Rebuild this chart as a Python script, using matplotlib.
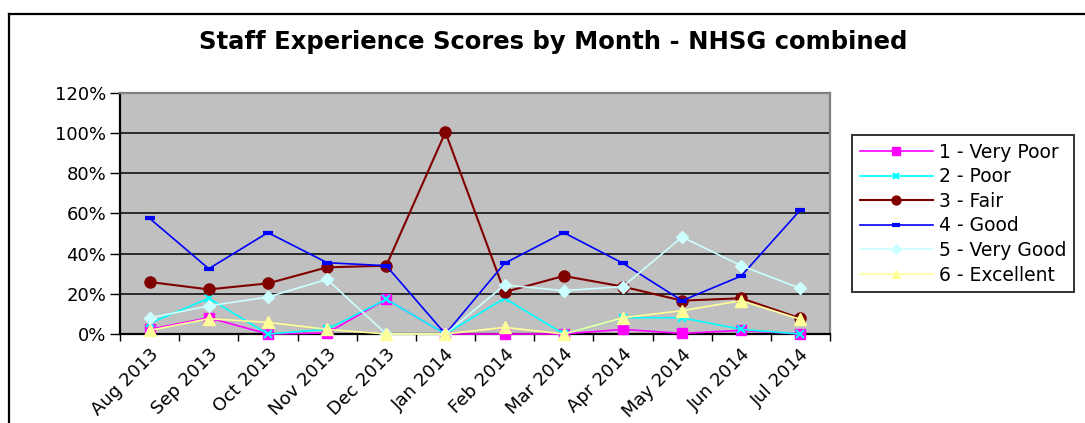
import matplotlib
matplotlib.use("Agg")
import matplotlib.pyplot as plt
from matplotlib.lines import Line2D
from matplotlib.ticker import PercentFormatter, FixedLocator

months = ["Aug 2013", "Sep 2013", "Oct 2013", "Nov 2013", "Dec 2013", "Jan 2014",
          "Feb 2014", "Mar 2014", "Apr 2014", "May 2014", "Jun 2014", "Jul 2014"]

very_poor = [2.3, 8.1, 0, 0.5, 17.3, 0, 0, 0, 2.3, 0.3, 1.8, 0]
poor = [5.3, 17.8, 0, 2.3, 17.3, 0, 17.8, 0, 8.1, 8.1, 2.3, 0]
fair = [25.9, 22.2, 25.2, 33.2, 34.0, 100.5, 20.9, 28.9, 23.6, 16.6, 17.8, 7.8]
good = [57.6, 32.5, 50.5, 35.5, 34.0, 0, 35.2, 50.5, 35.2, 16.6, 28.9, 61.8]
very_good = [8.0, 14.0, 18.4, 27.2, 0, 0, 24.4, 21.6, 23.6, 48.3, 34.0, 22.7]
excellent = [1.8, 7.6, 5.8, 2.3, 0, 0, 3.3, 0, 8.1, 11.6, 16.6, 7.3]

series = [
    ("1 - Very Poor", very_poor, "#FF00FF", "s", 7, 1.2),
    ("2 - Poor", poor, "#00FFFF", "x", 6, 1.2),
    ("3 - Fair", fair, "#800000", "o", 8, 1.5),
    ("4 - Good", good, "#0000FF", "_", 7, 1.2),
    ("5 - Very Good", very_good, "#CCFFFF", "D", 6.5, 1.2),
    ("6 - Excellent", excellent, "#FFFF99", "^", 8, 1.2),
]

plt.rcParams["font.family"] = "DejaVu Sans"

fig = plt.figure(figsize=(10.85, 4.23), dpi=100)
fig.patch.set_facecolor("white")

# chart border (only left and top visible)
fig.add_artist(Line2D([9 / 1085, 9 / 1085], [0, 1 - 14 / 423], transform=fig.transFigure, color="black", lw=1.6))
fig.add_artist(Line2D([9 / 1085, 1], [1 - 14 / 423, 1 - 14 / 423], transform=fig.transFigure, color="black", lw=1.6))

ax = fig.add_axes([120 / 1085, 89 / 423, 710 / 1085, 241 / 423])
ax.set_facecolor("#C0C0C0")

x = list(range(len(months)))
for name, vals, color, marker, ms, lw in series:
    mew = 3 if marker == "_" else (1.5 if marker == "x" else 1)
    ax.plot(x, [v / 100 for v in vals], color=color, lw=lw, marker=marker, ms=ms,
            mec=color, mfc=color, mew=mew, label=name, clip_on=False, zorder=3)

ax.set_xlim(-0.5, len(months) - 0.5)
ax.set_ylim(0, 1.2)
ax.set_yticks([0, 0.2, 0.4, 0.6, 0.8, 1.0, 1.2])
ax.yaxis.set_major_formatter(PercentFormatter(1.0, decimals=0))
ax.grid(axis="y", color="black", lw=1.1, zorder=1)
ax.set_axisbelow(True)

ax.set_xticks(x)
ax.set_xticklabels(months, rotation=45, ha="right", rotation_mode="anchor")
ax.xaxis.set_minor_locator(FixedLocator([i - 0.5 for i in range(len(months) + 1)]))
ax.tick_params(axis="x", which="major", length=0, pad=8, labelsize=13)
ax.tick_params(axis="x", which="minor", length=5, width=1, direction="out")
ax.tick_params(axis="y", length=7, width=1, direction="out", labelsize=13, pad=3)

for side in ["left", "bottom"]:
    ax.spines[side].set_color("black")
    ax.spines[side].set_linewidth(1.6)
for side in ["top", "right"]:
    ax.spines[side].set_color("#808080")
    ax.spines[side].set_linewidth(1.6)

fig.text(553 / 1085, 1 - 42 / 423, "Staff Experience Scores by Month - NHSG combined",
         ha="center", va="center", fontsize=17.5, fontweight="bold")

leg = fig.legend(loc="upper left", bbox_to_anchor=(852 / 1085, 1 - 135 / 423),
                 frameon=True, fancybox=False, fontsize=13.5, handlelength=3.9,
                 handletextpad=0.35, labelspacing=0.3, borderpad=0.4, borderaxespad=0,
                 markerscale=0.8)
leg.get_frame().set_edgecolor("black")
leg.get_frame().set_linewidth(1.4)

fig.savefig("out.png", dpi=100)
